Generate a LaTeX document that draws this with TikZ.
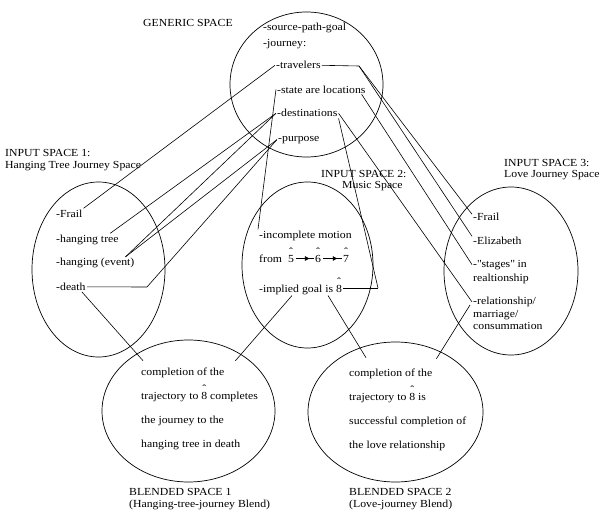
\documentclass[tikz,border=0pt]{standalone}
\usepackage{fontspec}
\setmainfont{Liberation Serif}[FakeStretch=1.09]
\usetikzlibrary{shapes.geometric,arrows.meta,decorations.markings}
% scale degree with a caret above
\newcommand\sdeg[1]{\ooalign{\hfil\raisebox{7pt}{\symbol{"02C6}}\hfil\cr#1\cr}}

\begin{document}
\begin{tikzpicture}[x=1pt,y=-1pt,font=\fontsize{10.8pt}{12pt}\selectfont,
  space/.style={draw,ellipse,line width=0.7pt,inner sep=0pt},
  item/.style={anchor=base west,inner sep=1pt},
  link/.style={line width=0.6pt},
  motion/.style={link,postaction={decorate},
    decoration={markings,mark=at position 0.8 with {\arrow{Latex[length=5pt,width=5pt]}}}}]
\useasboundingbox (0,0) rectangle (603,519);

% the five spaces
\node[space,minimum width=153pt,minimum height=145pt] (gen) at (306.5,84.5) {};
\node[space,minimum width=133pt,minimum height=175pt] (in1) at (98.5,269.5) {};
\node[space,minimum width=131pt,minimum height=166pt] (in2) at (307.5,265) {};
\node[space,minimum width=134pt,minimum height=168pt] (in3) at (511,271) {};
\node[space,minimum width=173pt,minimum height=142pt] (bl1) at (188.5,411) {};
\node[space,minimum width=175pt,minimum height=140pt] (bl2) at (395.5,412) {};

% headings
\node[item] (genlab) at (142,27) {GENERIC SPACE};
\node[item] (in1lab) at (4,157) {INPUT SPACE 1:};
\node[item] (in1sub) at (4,168) {Hanging Tree Journey Space};
\node[item] (in2lab) at (320,177) {INPUT SPACE 2:};
\node[item] (in2sub) at (341,188) {Music Space};
\node[item] (in3lab) at (503,166) {INPUT SPACE 3:};
\node[item] (in3sub) at (503,177.5) {Love Journey Space};
\node[item] (bl1lab) at (128,495.5) {BLENDED SPACE 1};
\node[item] (bl1sub) at (128,507) {(Hanging-tree-journey Blend)};
\node[item] (bl2lab) at (348,495.5) {BLENDED SPACE 2};
\node[item] (bl2sub) at (348,507) {(Love-journey Blend)};

% generic space
\node[item] (src) at (262,30.5) {-source-path-goal};
\node[item] (jour) at (262,47) {-journey:};
\node[item] (trav) at (275,69) {-travelers};
\node[item] (state) at (276,93) {-state are locations};
\node[item] (dest) at (276,117) {-destinations};
\node[item] (purp) at (277,141) {-purpose};

% input space 1
\node[item] (fr1) at (55,217) {-Frail};
\node[item] (htree) at (55,242) {-hanging tree};
\node[item] (hev) at (55,265.5) {-hanging (event)};
\node[item] (death) at (55,290.5) {-death};

% input space 2
\node[item] (inc) at (258,238) {-incomplete motion};
\node[item] (from) at (258,262) {from};
\node[item,inner sep=0pt] (d5) at (288,262) {\sdeg{5}};
\node[item,inner sep=0pt] (d6) at (315,262) {\sdeg{6}};
\node[item,inner sep=0pt] (d7) at (343,262) {\sdeg{7}};
\node[item] (goal) at (258,292) {-implied goal is \sdeg{8}};

% input space 3
\node[item] (fr3) at (472,220.5) {-Frail};
\node[item] (eliz) at (472,244.5) {-Elizabeth};
\node[item] (stg) at (472,267) {-\textquotedbl stages\textquotedbl{} in};
\node[item] (stg2) at (472,281) {realtionship};
\node[item] (rel) at (472,304.5) {-relationship/};
\node[item] (rel2) at (472,317) {marriage/};
\node[item] (rel3) at (472,329.5) {consummation};

% blended space 1
\node[item] (c1a) at (140,375.5) {completion of the};
\node[item] (c1b) at (140,399.5) {trajectory to \sdeg{8} completes};
\node[item] (c1c) at (140,423) {the journey to the};
\node[item] (c1d) at (140,447) {hanging tree in death};

% blended space 2
\node[item] (c2a) at (348,376.5) {completion of the};
\node[item] (c2b) at (348,400.5) {trajectory to \sdeg{8} is};
\node[item] (c2c) at (348,424) {successful completion of};
\node[item] (c2d) at (348,448) {the love relationship};

% bend points
\coordinate (tv) at (359,66);
\coordinate (gb) at (378,288);
\coordinate (db) at (147,287);

% steps of the motion
\draw[motion] ([xshift=1.5pt,yshift=3.5pt]d5.base east) -- ([xshift=-1.5pt,yshift=3.5pt]d6.base west);
\draw[motion] ([xshift=1.5pt,yshift=3.5pt]d6.base east) -- ([xshift=-1.5pt,yshift=3.5pt]d7.base west);

% generic to input 1
\draw[link] (trav.west) -- (fr1.north east);
\draw[link] (dest.west) -- (htree.15);
\draw[link] (dest.west) -- ([xshift=-10pt]hev.north east);
\draw[link] (purp.west) -- ([xshift=-10pt]hev.north east);
\draw[link] (purp.west) -- (db);
\draw[link] (death.east) -- (db);

% generic to input 2
\draw[link] (state.west) -- (inc.north west);
\draw[link] (dest.south east) -- (gb);
\draw[link] ([yshift=4pt]goal.base east) -- (gb);

% generic to input 3
\draw[link] (trav.east) -- (tv);
\draw[link] (tv) -- (fr3.170);
\draw[link] (tv) -- (eliz.170);
\draw[link] ([xshift=-5pt]state.south east) -- (stg.west);
\draw[link] (dest.east) -- (rel.west);

% inputs to blends
\draw[link] ([xshift=-5pt]death.south east) -- ([xshift=3pt,yshift=6pt]c1a.north west);
\draw[link] ([xshift=34pt]goal.south west) -- ([xshift=10pt,yshift=6pt]c1a.north east);
\draw[link] ([xshift=70pt]goal.south west) -- ([xshift=18pt,yshift=10pt]c2a.north west);
\draw[link] ([xshift=-2pt,yshift=3pt]rel.south west) -- ([xshift=3pt,yshift=9pt]c2a.north east);
\end{tikzpicture}
\end{document}
